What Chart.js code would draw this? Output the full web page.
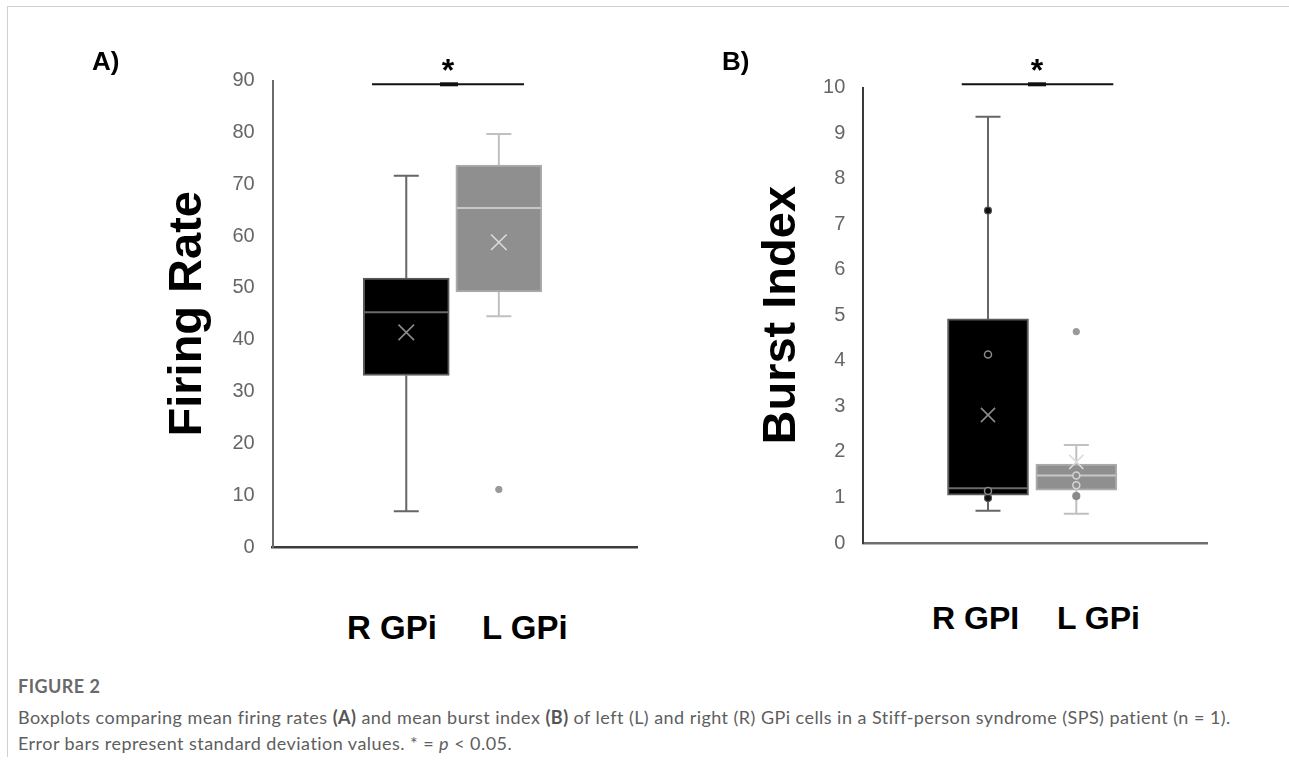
<!DOCTYPE html>
<html><head><meta charset="utf-8">
<script src="https://cdn.jsdelivr.net/npm/chart.js@4.4.0/dist/chart.umd.min.js"></script>
<style>
html,body{margin:0;padding:0;background:#fff;}
body{width:1289px;height:765px;position:relative;overflow:hidden;font-family:"Liberation Sans",Arial,sans-serif;}
#frame{position:absolute;left:7px;top:6px;width:1282px;height:750px;border-left:1px solid #d0d0d0;border-top:1px solid #d0d0d0;}
canvas{position:absolute;top:0;}
#cA{left:0;}
#cB{left:650px;}
.panel{position:absolute;font-weight:bold;font-size:26px;line-height:26px;color:#000;}
.xl{position:absolute;font-weight:bold;font-size:33px;line-height:33px;color:#000;white-space:nowrap;}
#cap{position:absolute;left:18px;top:673px;color:#5e5e5e;font-family:Lato,"Open Sans",sans-serif;font-size:18px;line-height:26px;white-space:nowrap;}
#cap .fig{font-weight:700;color:#6a6a6a;}
#cap b{font-weight:700;color:#555;}
</style></head>
<body>
<div id="frame"></div>
<canvas id="cA" width="650" height="600"></canvas>
<canvas id="cB" width="600" height="600"></canvas>
<div class="panel" style="left:92px;top:48px;">A)</div>
<div class="panel" style="left:722px;top:48px;">B)</div>
<div class="xl" style="left:347px;top:611px;">R GPi</div>
<div class="xl" style="left:482px;top:611px;">L GPi</div>
<div class="xl" style="left:932px;top:602px;font-size:32px;">R GPI</div>
<div class="xl" style="left:1057px;top:602px;font-size:32px;">L GPi</div>
<div id="cap">
<div class="fig">FIGURE 2</div>
<div id="l1" style="margin-top:5px;"><span id="l1s">Boxplots comparing mean firing rates <b>(A)</b> and mean burst index <b>(B)</b> of left (L) and right (R) GPi cells in a Stiff-person syndrome (SPS) patient (n = 1).</span></div>
<div>Error bars represent standard deviation values. * = <i>p</i> &lt; 0.05.</div>
</div>
<script>
// ---------- data ----------
const groups = ['R GPi', 'L GPi'];
// Panel A: firing rate
const fireTicks = [0, 10, 20, 30, 40, 50, 60, 70, 80, 90];
const fireMin = [6.9, 44.5];
const fireQ1 = [33.1, 49.2];
const fireMedian = [45.3, 65.4];
const fireQ3 = [51.9, 73.7];
const fireMax = [71.6, 79.7];
const fireMean = [41.4, 58.8];
const fireOutliers = [[], [11.1]];
// Panel B: burst index
const burstTicks = [0, 1, 2, 3, 4, 5, 6, 7, 8, 9, 10];
const burstMin = [0.71, 0.64];
const burstQ1 = [1.05, 1.16];
const burstMedian = [1.20, 1.48];
const burstQ3 = [4.92, 1.73];
const burstMax = [9.36, 2.15];
const burstMean = [2.81, 1.78];
const burstOutliers = [[], [4.64]];
const burstFilledPts = [[7.30, 0.99], [1.03]];
const burstOpenPts = [[4.14, 1.14], [1.48, 1.27]];

// ---------- styles ----------
const boxFill = ['#000000', '#8f8f8f'];
const boxEdge = ['#5a5a5a', '#ababab'];
const medianCol = ['#6a6a6a', '#c8c8c8'];
const whiskerCol = ['#666666', '#c0c0c0'];
const meanCol = ['#8a8a8a', '#dcdcdc'];

const pts = (arr, i) => arr.map(v => ({x: i + 1, y: v}));

const boxExtras = {
  id: 'boxExtras',
  beforeDatasetsDraw(chart, args, o) {
    const {ctx, scales: {x, y}} = chart;
    ctx.save();
    ctx.lineWidth = 2;
    o.min.forEach((mn, i) => {
      const cx = x.getPixelForValue(i + 1);
      ctx.strokeStyle = whiskerCol[i];
      ctx.beginPath();
      ctx.moveTo(cx, y.getPixelForValue(o.max[i]));
      ctx.lineTo(cx, y.getPixelForValue(o.q3[i]));
      ctx.moveTo(cx, y.getPixelForValue(o.q1[i]));
      ctx.lineTo(cx, y.getPixelForValue(mn));
      [o.max[i], mn].forEach(v => {
        const py = y.getPixelForValue(v);
        ctx.moveTo(cx - o.cap, py); ctx.lineTo(cx + o.cap, py);
      });
      ctx.stroke();
    });
    ctx.restore();
  },
  afterDatasetDraw(chart, args, o) {
    if (args.index !== 0) return;
    const {ctx, scales: {y}} = chart;
    ctx.save();
    ctx.lineWidth = 2;
    chart.getDatasetMeta(0).data.forEach((bar, i) => {
      const {x: bx, width} = bar.getProps(['x', 'width'], true);
      const py = y.getPixelForValue(o.median[i]);
      ctx.strokeStyle = medianCol[i];
      ctx.beginPath();
      ctx.moveTo(bx - width / 2 + 1, py); ctx.lineTo(bx + width / 2 - 1, py);
      ctx.stroke();
    });
    ctx.restore();
  },
  afterDraw(chart, args, o) {
    const ctx = chart.ctx;
    ctx.save();
    ctx.strokeStyle = '#111';
    ctx.lineWidth = 2;
    ctx.beginPath();
    ctx.moveTo(o.sig[0], o.sig[2]); ctx.lineTo(o.sig[1], o.sig[2]);
    ctx.stroke();
    ctx.lineWidth = 4;
    ctx.beginPath();
    ctx.moveTo(o.sig[3], o.sig[2]); ctx.lineTo(o.sig[3] + 18, o.sig[2]);
    ctx.stroke();
    ctx.fillStyle = '#000';
    ctx.font = 'bold 32px "Liberation Sans", Arial';
    ctx.textAlign = 'center';
    ctx.textBaseline = 'alphabetic';
    ctx.fillText('*', o.star[0], o.star[1]);
    ctx.restore();
  }
};

function makeChart(id, cfg) {
  const datasets = [
    {type: 'bar', order: 10, data: groups.map((g, i) => ({x: i + 1, y: [cfg.q1[i], cfg.q3[i]]})),
     backgroundColor: boxFill, borderColor: boxEdge, borderWidth: 2, borderSkipped: false,
     barThickness: cfg.barW}
  ];
  groups.forEach((g, i) => {
    datasets.push({type: 'scatter', order: 1, data: pts([cfg.mean[i]], i), pointStyle: 'crossRot',
      pointRadius: cfg.xr, borderColor: meanCol[i], borderWidth: 1.6, backgroundColor: 'transparent'});
  });
  (cfg.open || [[], []]).forEach((arr, i) => {
    datasets.push({type: 'scatter', order: 2, data: pts(arr, i), pointRadius: 3.5, borderWidth: 1.5,
      borderColor: i === 0 ? '#8a8a8a' : '#d4d4d4', backgroundColor: boxFill[i]});
  });
  (cfg.filled || [[], []]).forEach((arr, i) => {
    datasets.push({type: 'scatter', order: 2, data: pts(arr, i), pointRadius: 3.5, borderWidth: 1.2,
      borderColor: i === 0 ? '#555' : '#8a8a8a', backgroundColor: i === 0 ? '#111' : '#8a8a8a'});
  });
  cfg.outliers.forEach((arr, i) => {
    datasets.push({type: 'scatter', order: 2, data: pts(arr, i), pointRadius: 3.2, borderWidth: 1,
      borderColor: '#999', backgroundColor: '#999'});
  });
  return new Chart(document.getElementById(id), {
    type: 'bar',
    data: {datasets},
    plugins: [boxExtras],
    options: {
      responsive: false, animation: false, devicePixelRatio: 1,
      layout: {padding: cfg.pad},
      plugins: {legend: {display: false}, tooltip: {enabled: false},
        boxExtras: {min: cfg.min, max: cfg.max, q1: cfg.q1, q3: cfg.q3, median: cfg.median,
          cap: 12.5, sig: cfg.sig, star: cfg.star}},
      scales: {
        x: {type: 'linear', offset: false, min: cfg.xr0, max: cfg.xr1,
            grid: {display: false, drawTicks: false, offset: false},
            ticks: {display: false}, border: {display: true, color: cfg.xAxisCol, width: 2.5},
            afterFit(s) { s.height = 0; s.paddingLeft = 0; s.paddingRight = 0; }},
        y: {type: 'linear', min: cfg.ticks[0], max: cfg.ticks[cfg.ticks.length - 1],
            grid: {display: false, drawTicks: false},
            border: {display: true, color: cfg.yAxisCol, width: 2},
            ticks: {color: '#666', font: {size: 20, family: '"Liberation Sans", Arial'}, padding: 18},
            afterBuildTicks(s) { s.ticks = cfg.ticks.map(v => ({value: v})); },
            title: {display: true, text: cfg.title, color: '#000', padding: 0,
                    font: {size: 47, weight: 'bold', family: '"Liberation Sans", Arial'}},
            afterFit(s) { s.width = cfg.yW; }}
      }
    }
  });
}

makeChart('cA', {
  q1: fireQ1, q3: fireQ3, median: fireMedian, min: fireMin, max: fireMax, mean: fireMean,
  outliers: fireOutliers, ticks: fireTicks, title: 'Firing Rate',
  barW: 86, xr: 11, xr0: -0.443, xr1: 3.497,
  pad: {left: 159.8, right: 1.4, top: 80.5, bottom: 53}, yW: 112.9,
  xAxisCol: '#3c3c3c', yAxisCol: '#6a6a6a',
  sig: [372, 524, 84.3, 440], star: [448, 81]
});
makeChart('cB', {
  q1: burstQ1, q3: burstQ3, median: burstMedian, min: burstMin, max: burstMax, mean: burstMean,
  outliers: burstOutliers, open: burstOpenPts, filled: burstFilledPts, ticks: burstTicks,
  title: 'Burst Index',
  barW: 81, xr: 10, xr0: -0.412, xr1: 3.48,
  pad: {left: 104.3, right: 43, top: 87.5, bottom: 57}, yW: 109,
  xAxisCol: '#6e6e6e', yAxisCol: '#3a3a3a',
  sig: [311.7, 463.3, 84.3, 378], star: [387, 81]
});

// fit caption line width with letter spacing
function fitCaption() {
  const cap = document.getElementById('cap');
  const s = document.getElementById('l1s');
  cap.style.letterSpacing = '0px';
  const tw = s.getBoundingClientRect().width;
  const n = s.textContent.length;
  cap.style.letterSpacing = ((1212 - tw) / n).toFixed(3) + 'px';
}
fitCaption();
if (document.fonts && document.fonts.ready) document.fonts.ready.then(fitCaption);
</script>
</body></html>
